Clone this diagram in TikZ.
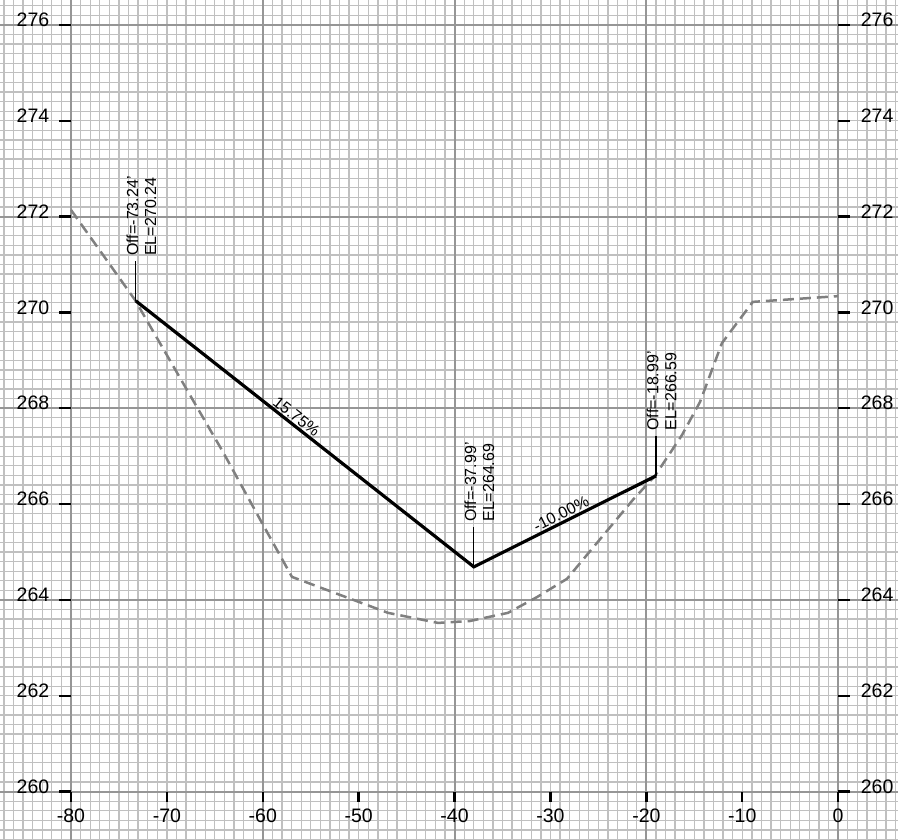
\documentclass[tikz,border=0pt]{standalone}
\usepackage{fontspec}
\setmainfont{Liberation Sans}
\definecolor{gridminor}{RGB}{192,192,192}
\definecolor{gridmajor}{RGB}{150,150,150}
\definecolor{groundgray}{RGB}{128,128,128}
\begin{document}
\begin{tikzpicture}[x=9.59pt,y=47.92pt,
  minorgrid/.style={draw=gridminor,line width=1.3pt},
  majorgrid/.style={draw=gridmajor,line width=2pt},
  tickmark/.style={draw=black,line width=2.4pt},
  axislbl/.style={font=\fontsize{19.5}{21}\selectfont,inner sep=0pt},
  groundline/.style={draw=groundgray,line width=2.5pt,dash pattern=on 11pt off 6pt},
  designline/.style={draw=black,line width=3.2pt},
  leader/.style={draw=black,line width=1.2pt},
  ptlbl/.style={font=\fontsize{16}{18}\selectfont,rotate=90,anchor=north west,align=left,inner sep=0pt},
  slopelbl/.style={font=\fontsize{16}{18}\selectfont,sloped,above,inner sep=1.2pt}]
\useasboundingbox (-7.404,-1.008) rectangle (86.24,16.52);
\fill[white] (-7.404,-1.008) rectangle (86.24,16.52);
% minor grid
\foreach \i in {-7,...,86} \draw[minorgrid] (\i,-1.008) -- (\i,16.52);
\foreach \j in {-5,...,82} \draw[minorgrid] (-7.404,\j*0.2) -- (86.24,\j*0.2);
% major grid
\foreach \i in {0,20,40,60,80} \draw[majorgrid] (\i,-1.008) -- (\i,16.52);
\foreach \j in {0,4,8,12,16} \draw[majorgrid] (-7.404,\j) -- (86.24,\j);
% y ticks and labels
\foreach \v [evaluate=\v as \Y using int(\v-260)] in {260,262,...,276} {
  \draw[tickmark] (-1.25,\Y) -- (0,\Y);
  \draw[tickmark] (80,\Y) -- (81.25,\Y);
  \node[axislbl,anchor=east] (yl\v) at (-2.25,\Y+0.105) {\v};
  \node[axislbl,anchor=west] (yr\v) at (82.35,\Y+0.105) {\v};
}
% x ticks and labels
\foreach \v [evaluate=\v as \X using int(\v+80)] in {-80,-70,...,0} {
  \draw[tickmark] (\X,0) -- (\X,-0.215);
  \node[axislbl] (xl\X) at (\X,-0.507) {\v};
}
% existing ground
\draw[groundline] (0,12.139) -- (6.674,10.26) -- (12.096,8.382) -- (15.85,7.088) -- (19.917,5.607) -- (23.045,4.48) -- (33.06,3.73) -- (38.27,3.52) -- (41.6,3.56) -- (45.57,3.73) -- (48.6,4.06) -- (51.72,4.44) -- (58.6,6.09) -- (60.9,6.59) -- (63.71,7.44) -- (65.59,8.13) -- (67.88,9.36) -- (71.1,10.22) -- (80,10.34);
% design points
\coordinate (A) at (6.76,10.24);
\coordinate (B) at (42.01,4.69);
\coordinate (C) at (61.01,6.59);
\coordinate (At) at (6.76,11.075);
\coordinate (Bt) at (42.01,5.525);
\coordinate (Ct) at (61.01,7.425);
\draw[designline] (A) -- (B) node[slopelbl,pos=0.46] (s1) {15.75\%} -- (C) node[slopelbl,pos=0.5] (s2) {-10.00\%};
\draw[leader] (A) -- (At);
\draw[leader] (B) -- (Bt);
\draw[leader] (C) -- (Ct);
\node[ptlbl] (la) at ([xshift=-9.5pt,yshift=5pt]At) {Off=-73.24'\\EL=270.24};
\node[ptlbl] (lb) at ([xshift=-9.5pt,yshift=5pt]Bt) {Off=-37.99'\\EL=264.69};
\node[ptlbl] (lc) at ([xshift=-9.5pt,yshift=5pt]Ct) {Off=-18.99'\\EL=266.59};
\end{tikzpicture}
\end{document}
